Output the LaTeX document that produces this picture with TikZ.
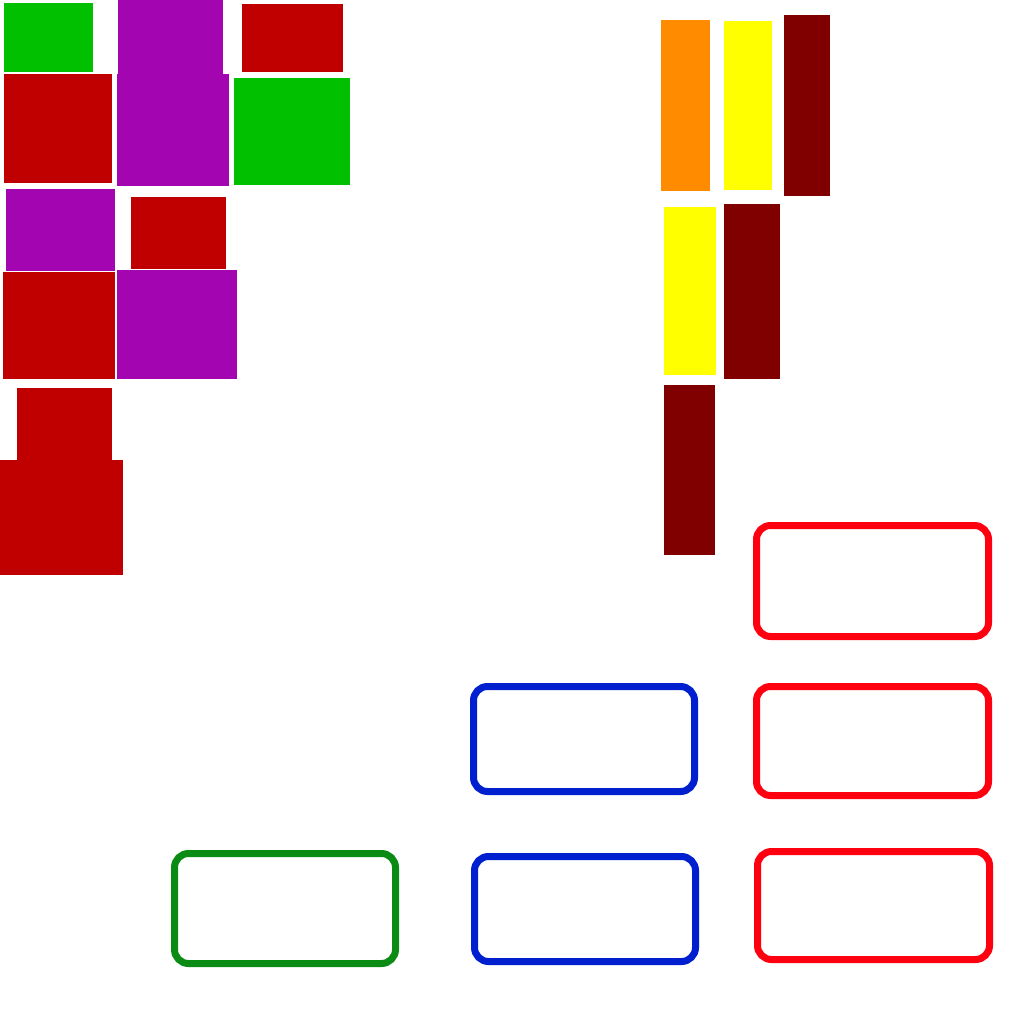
\documentclass[tikz,border=0pt]{standalone}
\definecolor{cgreen}{HTML}{00C000}
\definecolor{cpurple}{HTML}{A305B0}
\definecolor{cred}{HTML}{C00000}
\definecolor{corange}{HTML}{FF8C00}
\definecolor{cyellow}{HTML}{FFFF00}
\definecolor{cmaroon}{HTML}{800000}
\definecolor{bred}{HTML}{FF0010}
\definecolor{bblue}{HTML}{0020D0}
\definecolor{bgreen}{HTML}{0A8C14}
\tikzset{
  rbox/.style={line width=7pt, rounded corners=14pt},
}
\begin{document}
\begin{tikzpicture}[x=1pt,y=-1pt]
\useasboundingbox (0,0) rectangle (1024,1024);
% top-left blocks
\fill[cgreen] (4,3) rectangle (93,72);
\fill[cpurple] (118,0) rectangle (223,76);
\fill[cred] (242,4) rectangle (343,72);
\fill[cred] (4,74) rectangle (112,183);
\fill[cpurple] (117,74) rectangle (229,186);
\fill[cgreen] (234,78) rectangle (350,185);
\fill[cpurple] (6,189) rectangle (115,271);
\fill[cred] (131,197) rectangle (226,269);
\fill[cred] (3,272) rectangle (115,379);
\fill[cpurple] (117,270) rectangle (237,379);
\fill[cred] (17,388) rectangle (112,461);
\fill[cred] (0,460) rectangle (123,575);
% right bars
\fill[corange] (661,20) rectangle (710,191);
\fill[cyellow] (724,21) rectangle (772,190);
\fill[cmaroon] (784,15) rectangle (830,196);
\fill[cyellow] (664,207) rectangle (716,375);
\fill[cmaroon] (724,204) rectangle (780,379);
\fill[cmaroon] (664,385) rectangle (715,555);
% rounded boxes
\draw[rbox, bred] (756.5,525.5) rectangle (988.5,636.5);
\draw[rbox, bblue] (473.5,686.5) rectangle (694.5,791.5);
\draw[rbox, bred] (756.5,686.5) rectangle (988.5,795.5);
\draw[rbox, bgreen] (174.5,853.5) rectangle (395.5,963.5);
\draw[rbox, bblue] (474.5,856.5) rectangle (695.5,961.5);
\draw[rbox, bred] (757.5,851.5) rectangle (989.5,959.5);
\end{tikzpicture}
\end{document}
